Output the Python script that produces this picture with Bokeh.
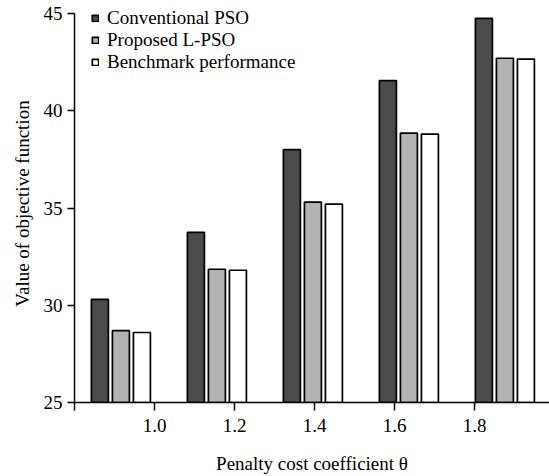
from bokeh.plotting import figure
from bokeh.models import ColumnDataSource, Range1d, FixedTicker, Legend, LegendItem, NumeralTickFormatter
from bokeh.embed import file_html
from bokeh.resources import INLINE

# ---- data ----
theta = [1.0, 1.2, 1.4, 1.6, 1.8]
conventional_pso = [30.3, 33.75, 38.0, 41.55, 44.75]
proposed_lpso = [28.7, 31.85, 35.3, 38.85, 42.7]
benchmark = [28.6, 31.8, 35.2, 38.8, 42.65]
series_names = ["Conventional PSO", "Proposed L-PSO", "Benchmark performance"]
x_ticks = [0.8, 1.0, 1.2, 1.4, 1.6, 1.8]
y_ticks = [25, 30, 35, 40, 45]

# ---- layout constants ----
FONT = "Liberation Serif"
group_start = 0.916
group_step = 0.24
bar_w = 0.0425
bar_step = 0.0525
colors = ["#4b4b4b", "#b3b3b3", "#ffffff"]
px_per_unit = 389 / 20.0
top_pad_px = 9

p = figure(width=549, height=476, output_backend="svg", toolbar_location=None,
           x_range=Range1d(0.8, 0.8 + 475 / 400),
           y_range=Range1d(25, 45 + top_pad_px / px_per_unit),
           min_border_left=74, min_border_right=0, min_border_top=13 - top_pad_px,
           min_border_bottom=74)
p.outline_line_color = None
p.xgrid.visible = False
p.ygrid.visible = False

renderers = []
for k, vals in enumerate([conventional_pso, proposed_lpso, benchmark]):
    xs = [group_start + i * group_step + (k - 1) * bar_step for i in range(len(theta))]
    src = ColumnDataSource(dict(x=xs, top=vals))
    r = p.vbar(x="x", top="top", bottom=25, width=bar_w, source=src,
               fill_color=colors[k], line_color="black", line_width=1.7)
    renderers.append(r)

# axes
for ax in (p.xaxis[0], p.yaxis[0]):
    ax.axis_line_width = 1.5
    ax.axis_line_color = "black"
    ax.major_tick_line_width = 1.5
    ax.major_tick_line_color = "black"
    ax.minor_tick_line_color = None
    ax.major_tick_in = 0
    ax.major_label_text_font = FONT
    ax.major_label_text_font_size = "19px"
    ax.major_label_text_color = "black"
    ax.axis_label_text_font = FONT
    ax.axis_label_text_font_size = "19px"
    ax.axis_label_text_font_style = "normal"
    ax.axis_label_text_color = "black"

p.xaxis.ticker = FixedTicker(ticks=x_ticks)
p.xaxis.formatter = NumeralTickFormatter(format="0.0")
p.xaxis.major_label_overrides = {0.8: ""}
p.xaxis.major_tick_out = 8
p.xaxis.major_label_standoff = 8
p.xaxis.axis_label = "Penalty cost coefficient θ"
p.xaxis.axis_label_standoff = 18

p.yaxis.ticker = FixedTicker(ticks=y_ticks)
p.yaxis.bounds = (25, 45)
p.yaxis.major_tick_out = 7
p.yaxis.major_label_standoff = 5
p.yaxis.axis_label = "Value of objective function"
p.yaxis.axis_label_standoff = 8

legend = Legend(items=[LegendItem(label=n, renderers=[r]) for n, r in zip(series_names, renderers)],
                location=(17, 329), orientation="vertical")
legend.background_fill_alpha = 0
legend.border_line_color = None
legend.padding = 0
legend.margin = 0
legend.spacing = 0
legend.glyph_width = 8
legend.glyph_height = 8
legend.label_height = 22
legend.label_standoff = 8
legend.label_text_font = FONT
legend.label_text_font_size = "19px"
legend.label_text_color = "black"
p.add_layout(legend, "center")

open("out.html", "w").write(file_html(p, INLINE))
